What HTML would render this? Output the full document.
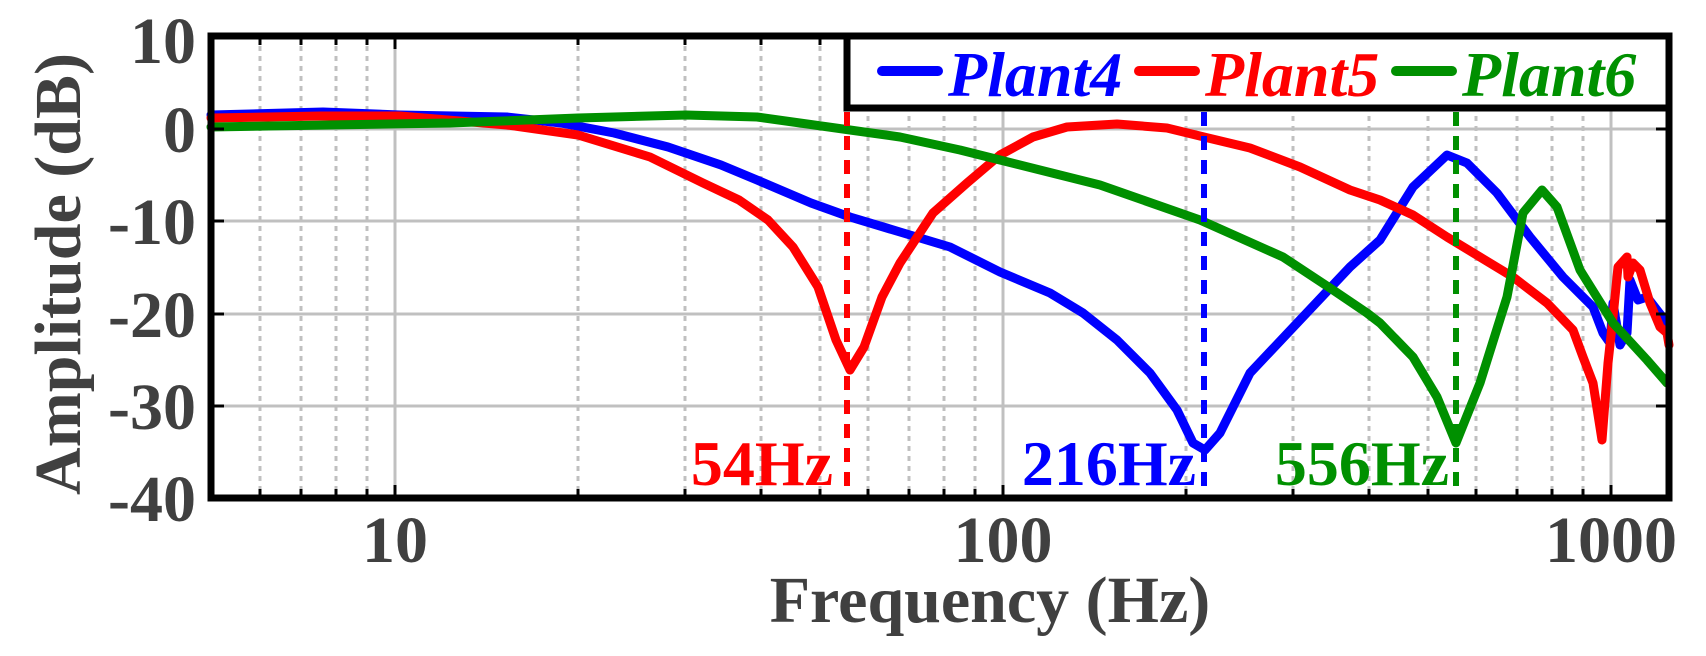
<!DOCTYPE html>
<html><head><meta charset="utf-8"><style>
html,body{margin:0;padding:0;background:#fff;}
svg{display:block;}
svg text{font-family:"Liberation Serif","Times New Roman",serif !important;font-weight:bold;}
</style></head><body>
<svg width="1706" height="656" viewBox="0 0 1706 656" xmlns="http://www.w3.org/2000/svg" font-family="Liberation Serif, serif">
<g stroke="#c0c0c0" stroke-width="3" stroke-dasharray="5,5">
<line x1="260" y1="36" x2="260" y2="498"/><line x1="301" y1="36" x2="301" y2="498"/><line x1="336" y1="36" x2="336" y2="498"/><line x1="367" y1="36" x2="367" y2="498"/>
<line x1="578" y1="36" x2="578" y2="498"/><line x1="685" y1="36" x2="685" y2="498"/><line x1="761" y1="36" x2="761" y2="498"/><line x1="820" y1="36" x2="820" y2="498"/><line x1="868" y1="36" x2="868" y2="498"/><line x1="909" y1="36" x2="909" y2="498"/><line x1="944" y1="36" x2="944" y2="498"/><line x1="975" y1="36" x2="975" y2="498"/>
<line x1="1186" y1="36" x2="1186" y2="498"/><line x1="1293" y1="36" x2="1293" y2="498"/><line x1="1369" y1="36" x2="1369" y2="498"/><line x1="1428" y1="36" x2="1428" y2="498"/><line x1="1476" y1="36" x2="1476" y2="498"/><line x1="1517" y1="36" x2="1517" y2="498"/><line x1="1552" y1="36" x2="1552" y2="498"/><line x1="1583" y1="36" x2="1583" y2="498"/>
</g>
<g stroke="#c0c0c0" stroke-width="3">
<line x1="395" y1="36" x2="395" y2="498"/><line x1="1003" y1="36" x2="1003" y2="498"/><line x1="1611" y1="36" x2="1611" y2="498"/>
<line x1="211" y1="129" x2="1669" y2="129"/><line x1="211" y1="221" x2="1669" y2="221"/><line x1="211" y1="314" x2="1669" y2="314"/><line x1="211" y1="406" x2="1669" y2="406"/>
</g>
<g fill="none" stroke-width="9" stroke-linejoin="round" stroke-linecap="round">
<polyline stroke="#0000ff" points="211,115 323,112 400,115 507,117 561,123 614,133 668,147 721,165 757,180 811,203 850,217 900,232 950,247 1000,272 1050,293 1083,313 1117,340 1150,373 1177,410 1193,443 1205,450 1220,433 1250,373 1300,320 1350,267 1380,240 1413,187 1447,155 1467,163 1497,193 1530,237 1563,277 1593,307 1603,333 1610,343 1613,303 1620,345 1627,333 1630,280 1638,300 1647,297 1667,323"/>
<polyline stroke="#ff0000" points="211,118 320,116 400,116 507,125 578,135 650,157 703,183 739,200 768,220 793,247 818,287 836,340 850,370 864,347 882,297 900,263 933,213 967,183 1000,155 1033,137 1067,127 1117,124 1167,128 1204,137 1250,148 1300,167 1350,190 1380,200 1413,215 1447,237 1480,257 1513,277 1547,303 1573,330 1583,357 1593,383 1602,440 1608,363 1613,317 1618,267 1627,257 1628,277 1633,263 1640,270 1650,303 1660,327 1667,333 1669,345"/>
<polyline stroke="#009000" points="211,127 450,123 578,118 686,115 757,117 850,130 900,137 960,150 1000,160 1100,185 1200,220 1283,257 1333,290 1367,313 1380,323 1413,357 1437,397 1456,443 1480,383 1507,297 1523,213 1542,190 1557,207 1580,270 1613,323 1647,360 1667,383"/>
</g>
<g stroke-width="6" stroke-dasharray="14,10">
<line x1="847" y1="112" x2="847" y2="498" stroke="#ff0000"/>
<line x1="1204" y1="112" x2="1204" y2="498" stroke="#0000ff"/>
<line x1="1456" y1="112" x2="1456" y2="498" stroke="#009000"/>
</g>
<g stroke="#000" stroke-width="3">
<path d="M260,498v-9M301,498v-9M336,498v-9M367,498v-9M395,498v-13M578,498v-9M685,498v-9M761,498v-9M820,498v-9M868,498v-9M909,498v-9M944,498v-9M975,498v-9M1003,498v-13M1186,498v-9M1293,498v-9M1369,498v-9M1428,498v-9M1476,498v-9M1517,498v-9M1552,498v-9M1583,498v-9M1611,498v-13"/>
<path d="M260,36v9M301,36v9M336,36v9M367,36v9M395,36v13M578,36v9M685,36v9M761,36v9M820,36v9"/>
<path d="M211,129h13M211,221h13M211,314h13M211,406h13M1669,129h-13M1669,221h-13M1669,314h-13M1669,406h-13"/>
</g>
<rect x="211" y="36" width="1458" height="462" fill="none" stroke="#000" stroke-width="7"/>
<rect x="847" y="36" width="822" height="72" fill="#fff" stroke="#000" stroke-width="7"/>
<g stroke-width="10" stroke-linecap="round">
<line x1="882" y1="71" x2="938" y2="71" stroke="#0000ff"/>
<line x1="1139" y1="71" x2="1195" y2="71" stroke="#ff0000"/>
<line x1="1396" y1="71" x2="1452" y2="71" stroke="#009000"/>
</g>
<g font-size="64" font-style="italic" font-weight="bold">
<text x="948" y="96" fill="#0000ff">Plant4</text>
<text x="1205" y="96" fill="#ff0000">Plant5</text>
<text x="1462" y="96" fill="#009000">Plant6</text>
</g>
<g font-size="64" font-weight="bold">
<text x="833" y="485" text-anchor="end" fill="#ff0000">54Hz</text>
<text x="1196" y="485" text-anchor="end" fill="#0000ff">216Hz</text>
<text x="1449" y="485" text-anchor="end" fill="#009000">556Hz</text>
</g>
<g font-size="66" fill="#404040" text-anchor="end" font-weight="bold">
<text x="196" y="63">10</text>
<text x="196" y="152">0</text>
<text x="196" y="244">-10</text>
<text x="196" y="337">-20</text>
<text x="196" y="429">-30</text>
<text x="196" y="521">-40</text>
</g>
<g font-size="66" fill="#404040" text-anchor="middle" font-weight="bold">
<text x="395" y="562">10</text>
<text x="1003" y="562">100</text>
<text x="1611" y="562">1000</text>
<text x="990" y="622">Frequency (Hz)</text>
<text transform="translate(80,274) rotate(-90)">Amplitude (dB)</text>
</g>
</svg>
</body></html>
